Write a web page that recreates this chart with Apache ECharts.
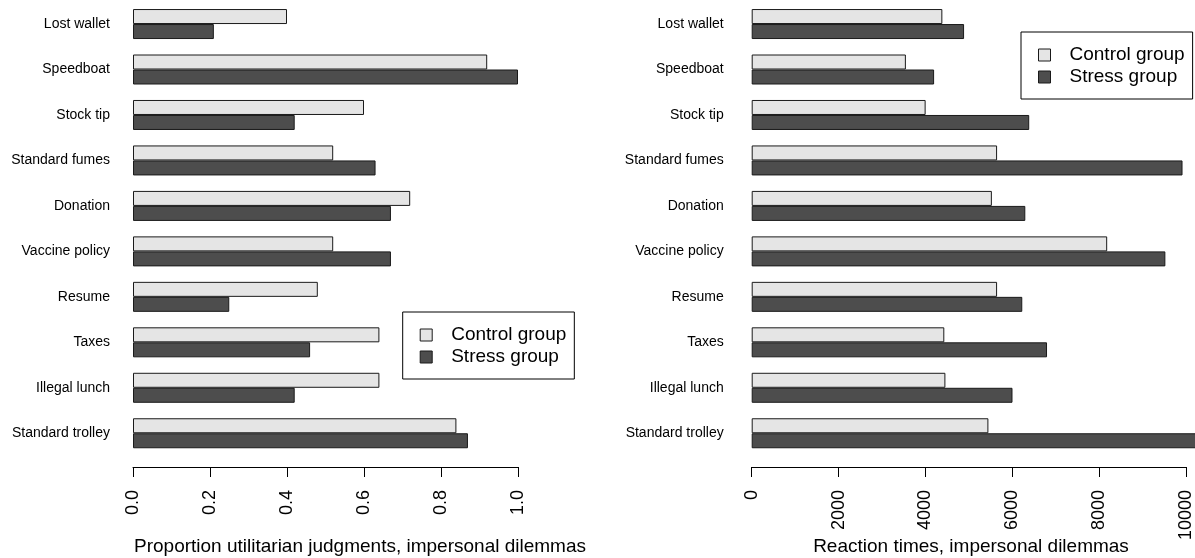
<!DOCTYPE html>
<html>
<head>
<meta charset="utf-8">
<title>Utilitarian judgments and reaction times</title>
<script src="https://cdn.jsdelivr.net/npm/echarts@6/dist/echarts.min.js"></script>
<style>
  html, body { margin: 0; padding: 0; background: #ffffff; }
  #chart { width: 1195px; height: 558px; }
</style>
</head>
<body>
<div id="chart"></div>
<script>
// Dilemmas, listed top to bottom
const dilemmas = ['Lost wallet', 'Speedboat', 'Stock tip', 'Standard fumes', 'Donation',
                  'Vaccine policy', 'Resume', 'Taxes', 'Illegal lunch', 'Standard trolley'];

// Proportion of utilitarian judgments
const controlProportion = [0.40, 0.92, 0.60, 0.52, 0.72, 0.52, 0.48, 0.64, 0.64, 0.84];
const stressProportion  = [0.21, 1.00, 0.42, 0.63, 0.67, 0.67, 0.25, 0.46, 0.42, 0.87];

// Reaction times (ms)
const controlReaction = [4390, 3550, 4005, 5650, 5530, 8185, 5650, 4435, 4460, 5450];
const stressReaction  = [4890, 4200, 6390, 9920, 6300, 9525, 6230, 6800, 6005, 10300];

const groupNames = ['Control group', 'Stress group'];
const proportionTicks = { min: 0, max: 1, interval: 0.2 };
const reactionTicks = { min: 0, max: 10000, interval: 2000 };

const FONT = '"Liberation Sans", Arial, Helvetica, sans-serif';
const CONTROL_FILL = '#e5e5e5';
const STRESS_FILL = '#4d4d4d';
const EDGE = '#1a1a1a';

const chart = echarts.init(document.getElementById('chart'), null, { renderer: 'canvas' });

function valueAxis(gridIndex, ticks, fmt) {
  return {
    type: 'value', gridIndex: gridIndex,
    min: ticks.min, max: ticks.max, interval: ticks.interval,
    position: 'bottom', offset: 11,
    axisLine: { show: true, onZero: false, lineStyle: { color: '#000', width: 1 } },
    axisTick: { show: true, length: 10, lineStyle: { color: '#000', width: 1 } },
    axisLabel: { rotate: 90, margin: 23, fontSize: 18, color: '#000', fontFamily: FONT, formatter: fmt },
    splitLine: { show: false }
  };
}

function categoryAxis(gridIndex, margin) {
  return {
    type: 'category', gridIndex: gridIndex, data: dilemmas, inverse: true,
    axisLine: { show: false }, axisTick: { show: false },
    axisLabel: { fontSize: 14, color: '#000', fontFamily: FONT, margin: margin, padding: [3, 0, 0, 0] },
    splitLine: { show: false }
  };
}

function barSeries(name, axisIndex, values, fill) {
  return {
    type: 'bar', name: name, xAxisIndex: axisIndex, yAxisIndex: axisIndex,
    data: values, barWidth: 15, barGap: '0%', clip: false, silent: true,
    itemStyle: { color: fill, borderColor: EDGE, borderWidth: 1 },
    emphasis: { disabled: true }
  };
}

function legendBox(left, top) {
  return {
    data: groupNames, orient: 'vertical', left: left, top: top,
    icon: 'rect', itemWidth: 12, itemHeight: 12, itemGap: 0,
    padding: [12, 8, 11, 17],
    borderColor: '#000', borderWidth: 1, backgroundColor: '#fff',
    itemStyle: { borderColor: EDGE, borderWidth: 1 },
    textStyle: { fontSize: 19, color: '#000', fontFamily: FONT, lineHeight: 22, padding: [0, 0, 0, 14] },
    selectedMode: false
  };
}

chart.setOption({
  animation: false,
  backgroundColor: '#ffffff',
  grid: [
    { left: 133, right: 1195 - 518, top: 1.3, bottom: 102 },
    { left: 751.7, right: 1195 - 1187.7, top: 1.3, bottom: 102 }
  ],
  xAxis: [
    valueAxis(0, proportionTicks, v => v.toFixed(1)),
    valueAxis(1, reactionTicks, v => String(v))
  ],
  yAxis: [categoryAxis(0, 23), categoryAxis(1, 28)],
  legend: [legendBox(402.7, 312), legendBox(1021, 32)],
  series: [
    barSeries(groupNames[0], 0, controlProportion, CONTROL_FILL),
    barSeries(groupNames[1], 0, stressProportion, STRESS_FILL),
    barSeries(groupNames[0], 1, controlReaction, CONTROL_FILL),
    barSeries(groupNames[1], 1, stressReaction, STRESS_FILL)
  ],
  graphic: [
    { type: 'text', x: 360, y: 546.5,
      style: { text: 'Proportion utilitarian judgments, impersonal dilemmas', fontSize: 19, fontFamily: FONT,
               fill: '#000', align: 'center', verticalAlign: 'middle' } },
    { type: 'text', x: 971, y: 546.5,
      style: { text: 'Reaction times, impersonal dilemmas', fontSize: 19, fontFamily: FONT,
               fill: '#000', align: 'center', verticalAlign: 'middle' } }
  ]
});
</script>
</body>
</html>
